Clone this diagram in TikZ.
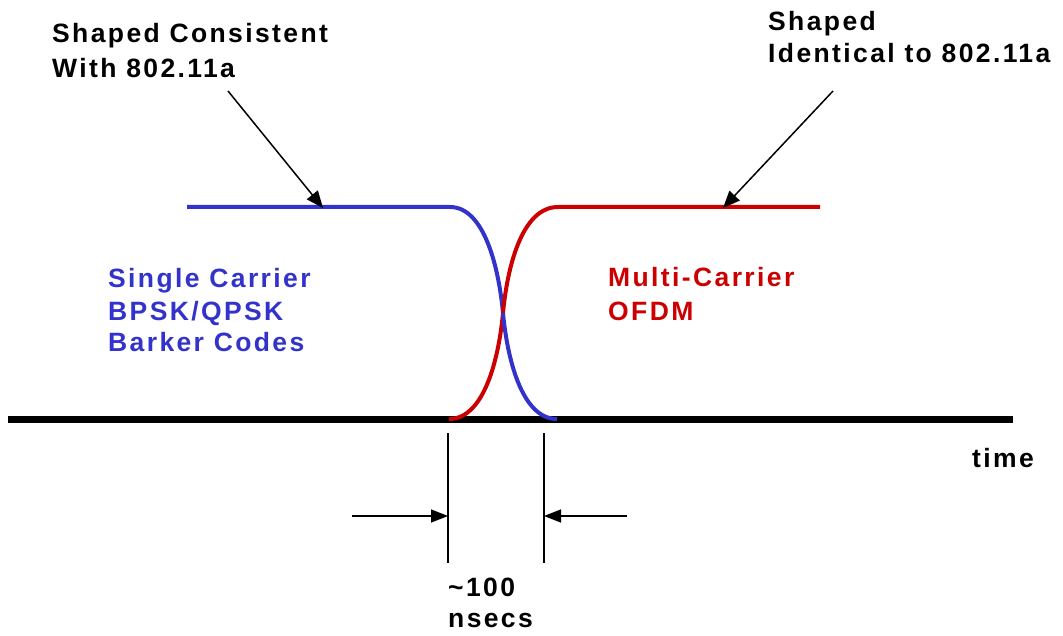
\documentclass[tikz,border=0pt]{standalone}
\usepackage{fontspec}
\setmainfont{Liberation Sans}[LetterSpace=9]
\usetikzlibrary{arrows.meta}
\definecolor{cblue}{HTML}{3333CC}
\definecolor{cred}{HTML}{CC0000}
\tikzset{
  lbl/.style={inner sep=0pt, anchor=base west, align=left, font=\bfseries\fontsize{26.5}{#1}\selectfont},
  annot/.style={line width=1.5pt, -{Triangle[length=17pt,width=14pt]}},
  dimarrow/.style={line width=1.5pt, -{Triangle[length=17pt,width=13pt]}},
  dimline/.style={line width=1.5pt},
  wave/.style={line width=4pt},
  axis/.style={line width=7pt}
}
\begin{document}
\begin{tikzpicture}[x=1pt,y=-1pt]
\useasboundingbox (0,0) rectangle (1063,636);
% axis
\coordinate (axL) at (8,419.5);
\coordinate (axR) at (1013,419.5);
\draw[axis] (axL) -- (axR);
% key points of the transitions
\coordinate (bS) at (187,207);
\coordinate (bK) at (450,207);
\coordinate (mid) at (503,313);
\coordinate (bE) at (557,419);
\coordinate (rS) at (449,419);
\coordinate (rK) at (558,207);
\coordinate (rE) at (820,207);
% blue upper part
\draw[wave, cblue] (bS) -- (bK) .. controls (485,207) and (499,270) .. (mid);
% red full
\draw[wave, cred] (rS) .. controls (485,419) and (499,356) .. (mid)
   .. controls (507,270) and (521,207) .. (rK) -- (rE);
% blue lower part
\draw[wave, cblue] (mid) .. controls (507,356) and (521,419) .. (bE);
% labels (anchored at the baseline of their last line)
\node[lbl=35] (lefttxt) at (52,78) {Shaped Consistent\\With 802.11a};
\node[lbl=32] (righttxt) at (768,63) {Shaped\\Identical to 802.11a};
\node[lbl=32, text=cblue] (single) at (108,352) {Single Carrier\\BPSK/QPSK\\Barker Codes};
\node[lbl=33, text=cred] (multi) at (608,320) {Multi-Carrier\\OFDM};
\node[lbl=30] (time) at (972,467) {time};
\node[lbl=31] (ns) at (448,627) {\textasciitilde100\\nsecs};
% annotation arrows
\coordinate (a1s) at (228,91);
\coordinate (a1e) at (323,208);
\coordinate (a2s) at (833,91);
\coordinate (a2e) at (723,208);
\draw[annot] (a1s) -- (a1e);
\draw[annot] (a2s) -- (a2e);
% dimension lines
\coordinate (v1t) at (448,433);
\coordinate (v1b) at (448,563);
\coordinate (v2t) at (544,433);
\coordinate (v2b) at (544,563);
\draw[dimline] (v1t) -- (v1b);
\draw[dimline] (v2t) -- (v2b);
\coordinate (d1s) at (352,516);
\coordinate (d1e) at (448,516);
\coordinate (d2s) at (627,516);
\coordinate (d2e) at (544,516);
\draw[dimarrow] (d1s) -- (d1e);
\draw[dimarrow] (d2s) -- (d2e);
\end{tikzpicture}
\end{document}
